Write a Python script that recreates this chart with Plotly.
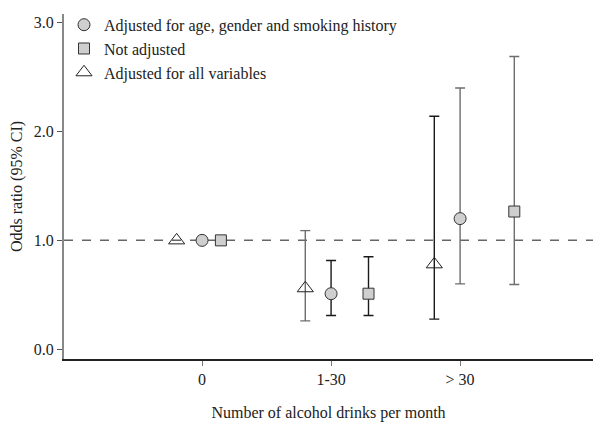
import plotly.graph_objects as go

categories = ["0", "1-30", "> 30"]

# odds ratios and 95% CI per series
circle_or = [1.0, 0.51, 1.20]
circle_lo = [1.0, 0.31, 0.60]
circle_hi = [1.0, 0.815, 2.40]

square_or = [1.0, 0.51, 1.265]
square_lo = [1.0, 0.31, 0.595]
square_hi = [1.0, 0.85, 2.69]

tri_or = [1.0, 0.56, 0.78]
tri_lo = [1.0, 0.26, 0.276]
tri_hi = [1.0, 1.09, 2.14]

# horizontal dodge of each series around the category position
circle_offset = [0.0, 0.0, 0.0]
square_offset = [0.146, 0.29, 0.42]
tri_offset = [-0.197, -0.2, -0.2]

# error bar colour per point
circle_ecol = [None, "#1a1a1a", "#6e6e6e"]
square_ecol = [None, "#1a1a1a", "#6e6e6e"]
tri_ecol = [None, "#6e6e6e", "#1a1a1a"]

FONT = "Liberation Serif"

fig = go.Figure()

series = [
    ("Adjusted for age, gender and smoking history", circle_or, circle_lo, circle_hi, circle_offset, circle_ecol,
     dict(symbol="circle", size=12, color="#cfcfcf", line=dict(color="#333", width=1))),
    ("Not adjusted", square_or, square_lo, square_hi, square_offset, square_ecol,
     dict(symbol="square", size=11, color="#cfcfcf", line=dict(color="#333", width=1))),
    ("Adjusted for all variables", tri_or, tri_lo, tri_hi, tri_offset, tri_ecol,
     dict(symbol="triangle-up-open", size=14, color="#222", line=dict(color="#222", width=1))),
]

# error bars first (below markers)
for name, vals, lo, hi, off, ecol, mk in series:
    for i, v in enumerate(vals):
        if ecol[i] is None:
            continue
        fig.add_trace(go.Scatter(
            x=[i + off[i]], y=[v], mode="markers",
            marker=dict(size=1, opacity=0),
            error_y=dict(type="data", symmetric=False,
                         array=[hi[i] - v], arrayminus=[v - lo[i]],
                         color=ecol[i], thickness=1.4, width=5),
            showlegend=False, hoverinfo="skip"))

# markers
for name, vals, lo, hi, off, ecol, mk in series:
    fig.add_trace(go.Scatter(
        x=[i + off[i] for i in range(len(vals))], y=vals,
        mode="markers", name=name, marker=mk))

fig.add_shape(type="line", xref="paper", x0=0, x1=1, yref="y", y0=1.0, y1=1.0,
              line=dict(color="#666", width=1.5, dash="dash"), layer="below")

fig.update_layout(
    width=593, height=426,
    margin=dict(l=64, r=0, t=14, b=67),
    paper_bgcolor="white", plot_bgcolor="white",
    font=dict(family=FONT, size=16, color="#222"),
    showlegend=True,
    legend=dict(x=0.0, y=1.018, xanchor="left", yanchor="top",
                bgcolor="rgba(0,0,0,0)", font=dict(family=FONT, size=16, color="#222"),
                tracegroupgap=0, itemsizing="trace"),
    xaxis=dict(
        range=[-1.07, 3.03], tickvals=[0, 1, 2], ticktext=categories,
        showgrid=False, zeroline=False, showline=True, linecolor="#222", linewidth=1.5,
        ticks="outside", ticklen=5, tickcolor="#777", tickwidth=1.2,
        tickfont=dict(family=FONT, size=16, color="#222"),
        title=dict(text="Number of alcohol drinks per month", standoff=20,
                   font=dict(family=FONT, size=16, color="#222")),
    ),
    yaxis=dict(
        range=[-0.09, 3.08], tickvals=[0, 1, 2, 3], ticktext=["0.0", "1.0", "2.0", "3.0"],
        showgrid=False, zeroline=False, showline=True, linecolor="#888", linewidth=2,
        ticks="outside", ticklen=5, tickcolor="#555", tickwidth=1.2,
        tickfont=dict(family=FONT, size=16, color="#222"),
        title=dict(text="Odds ratio (95% CI)", standoff=7,
                   font=dict(family=FONT, size=16, color="#222")),
    ),
)

fig.write_html("out.html", config={"displayModeBar": False},
               post_script="document.body.style.margin='0px';document.body.style.overflow='hidden';")
